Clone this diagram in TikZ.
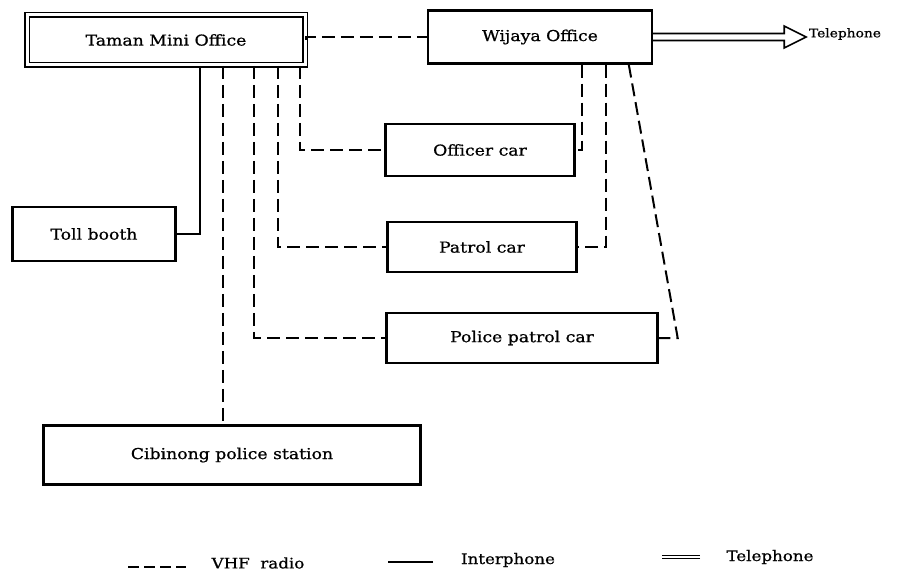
\documentclass[tikz,border=0pt]{standalone}
\usepackage{fontspec}
\setmainfont{DejaVu Serif}[FakeStretch=1.15, FakeBold=0.8]
\usetikzlibrary{calc}

\tikzset{
  unit/.style={draw, line width=2.4pt, inner sep=0pt, font=\fontsize{15}{18}\selectfont},
  radio/.style={line width=2pt, dash pattern=on 13pt off 6pt},
  wire/.style={line width=2pt},
  phone/.style={line width=1.6pt},
  key/.style={font=\fontsize{14.5}{17}\selectfont},
}

\begin{document}
\begin{tikzpicture}[x=1pt,y=-1pt]
\useasboundingbox (0,0) rectangle (911,575);

% offices
\node[unit, double, double distance=3pt, line width=1.8pt,
      minimum width=278pt, minimum height=50pt] (taman) at (166,40) {Taman Mini Office};
\node[unit, minimum width=224pt, minimum height=53pt] (wij) at (540,37) {Wijaya Office};

% cars and outposts
\node[unit, minimum width=189pt, minimum height=52pt] (oc) at (480,150) {Officer car};
\node[unit, minimum width=189pt, minimum height=50pt] (pc) at (482,247) {Patrol car};
\node[unit, minimum width=271pt, minimum height=50pt] (ppc) at (522,338) {Police patrol car};
\node[unit, minimum width=163pt, minimum height=54pt] (toll) at (94,234) {Toll booth};
\node[unit, minimum width=377pt, minimum height=59pt] (cib) at (232,455) {Cibinong police station};

% links from Taman Mini
\draw[radio] (taman.east) -- (wij.west -| taman.east) -- (wij.west);
\draw[wire] (taman.south west) ++(174,0) |- (toll.east);
\draw[radio] (taman.south west) ++(197,0) coordinate (c1) -- (c1 |- cib.north);
\draw[radio] (taman.south west) ++(228,0) |- (ppc.west);
\draw[radio] (taman.south west) ++(252,0) |- (pc.west);
\draw[radio] (taman.south west) ++(274,0) |- (oc.west);

% links from Wijaya
\draw[radio] (wij.south west) ++(155,0) |- (oc.east);
\draw[radio] (wij.south west) ++(179,0) |- (pc.east);
\draw[radio] (wij.south west) ++(202,0) -- ($(ppc.east)+(19,0)$) -- (ppc.east);

% telephone out
\draw[phone] ($(wij.east)+(0,-3.5)$) -- ++(131,0) -- ++(0,-7.5) -- ++(22,11)
  -- ++(-22,11) -- ++(0,-7.5) -- ($(wij.east)+(0,3.5)$);
\node[font=\fontsize{12}{14}\selectfont] (tel) at (845,34) {Telephone};

% legend
\node[key] (lvhf) at (258,563) {VHF\ \ radio};
\node[key] (lint) at (508,560) {Interphone};
\node[key] (ltel) at (770,557) {Telephone};
\coordinate (k1) at (128,567);
\coordinate (k2) at (433,562);
\coordinate (k3) at (700,557);
\draw[radio, dash pattern=on 11pt off 5pt] (k1) -- ++(58,0);
\draw[wire] (k2) -- ++(-45,0);
\draw[line width=1.4pt, double, double distance=1.6pt] (k3) -- ++(-38,0);
\end{tikzpicture}
\end{document}
